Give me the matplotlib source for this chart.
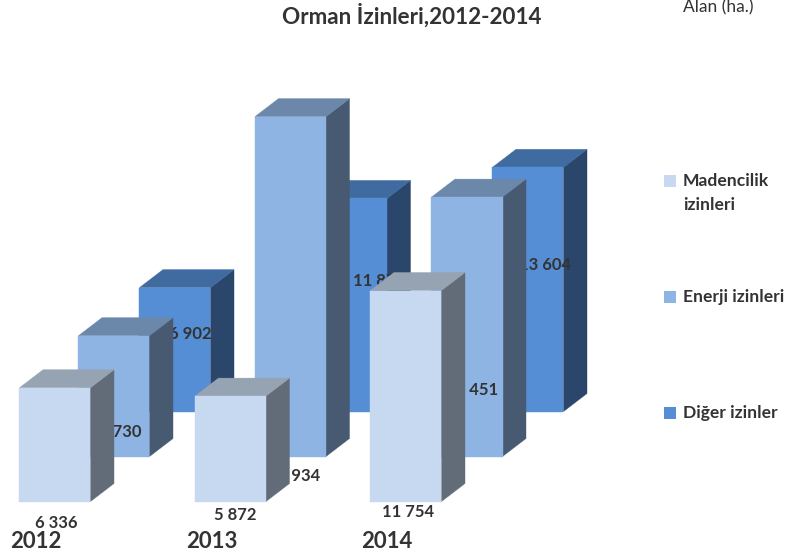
import matplotlib
matplotlib.use("Agg")
import matplotlib.pyplot as plt
from matplotlib.patches import Polygon, Rectangle

plt.rcParams['font.family'] = ['Lato', 'DejaVu Sans']

years = ['2012', '2013', '2014']
series_names = ['Madencilik\nizinleri', 'Enerji izinleri', 'Diğer izinler']
madencilik = [6336, 5872, 11754]
enerji = [6730, 18934, 14451]
diger = [6902, 11870, 13604]
all_series = [madencilik, enerji, diger]

FRONT = ['#C6D9F1', '#8EB4E3', '#558ED5']
TOP = ['#96A3B3', '#6B87AA', '#406BA0']
SIDE = ['#626C79', '#475A72', '#2A476B']
TEXT = '#333333'

W, H = 785, 555
PX_PER_GROUP = 175.5
PX_PER_UNIT = 17.95 / 1000
X0_PX, Y0_PX = 55, 501.5
BAR_W = 71 / PX_PER_GROUP
DX = 23.5 / PX_PER_GROUP
DY = 18 / PX_PER_UNIT
SER_X = [0, 59 / PX_PER_GROUP, 120 / PX_PER_GROUP]
SER_STRETCH = [1, 176.5 / PX_PER_GROUP, 176.5 / PX_PER_GROUP]
SER_DY = 45 / PX_PER_UNIT
LABEL_POS = [
    [(56, 523), (235, 515), (408, 512)],
    [(120, 432), (294, 476), (472, 390)],
    [(190, 334), (379.5, 281), (545.5, 265)],
]

fig = plt.figure(figsize=(W / 100, H / 100), dpi=100)
ax = fig.add_axes([0, 0, 1, 1])
ax.set_xlim(-X0_PX / PX_PER_GROUP, (W - X0_PX) / PX_PER_GROUP)
ax.set_ylim((Y0_PX - H) / PX_PER_UNIT, Y0_PX / PX_PER_UNIT)
ax.axis('off')

lay = fig.add_axes([0, 0, 1, 1], zorder=5)
lay.set_xlim(0, W)
lay.set_ylim(H, 0)
lay.axis('off')

z = 1
for s in [2, 1, 0]:
    for g, v in enumerate(all_series[s]):
        x0 = g * SER_STRETCH[s] + SER_X[s] - BAR_W / 2
        x1 = x0 + BAR_W
        b = s * SER_DY
        t = b + v
        ax.add_patch(Polygon([(x1, b), (x1 + DX, b + DY), (x1 + DX, t + DY), (x1, t)],
                             closed=True, fc=SIDE[s], ec=SIDE[s], lw=0.3, zorder=z))
        ax.add_patch(Polygon([(x0, t), (x1, t), (x1 + DX, t + DY), (x0 + DX, t + DY)],
                             closed=True, fc=TOP[s], ec=TOP[s], lw=0.3, zorder=z))
        ax.add_patch(Rectangle((x0, b), BAR_W, v, fc=FRONT[s], ec=FRONT[s], lw=0.3, zorder=z))
        txt = f'{v:,}'.replace(',', ' ')
        lx, ly = LABEL_POS[s][g]
        ax.text((lx - X0_PX) / PX_PER_GROUP, (Y0_PX - ly) / PX_PER_UNIT, txt,
                ha='center', va='center', fontsize=12, fontweight='bold',
                color=TEXT, zorder=z + 0.5)
        z += 1

for g, yr in enumerate(years):
    ax.text(g + (10 - 19) / PX_PER_GROUP - BAR_W / 2, (Y0_PX - 541) / PX_PER_UNIT, yr,
            ha='left', va='center', fontsize=16, fontweight='bold', color=TEXT, zorder=50)

lay.text(412, 16, 'Orman İzinleri,2012-2014', ha='center', va='center',
         fontsize=16.2, fontweight='bold', color=TEXT)
lay.text(718.5, 7, 'Alan (ha.)', ha='center', va='center', fontsize=12.5, color=TEXT)

for name, col, y in zip(series_names, FRONT, [181, 297, 413]):
    lay.add_patch(Rectangle((664, y - 6), 12, 12, fc=col, ec='none'))
    lay.text(683, y - 8, name, ha='left', va='top', fontsize=12.6, fontweight='bold',
             color=TEXT, linespacing=1.6)

fig.savefig('out.png', dpi=100)
